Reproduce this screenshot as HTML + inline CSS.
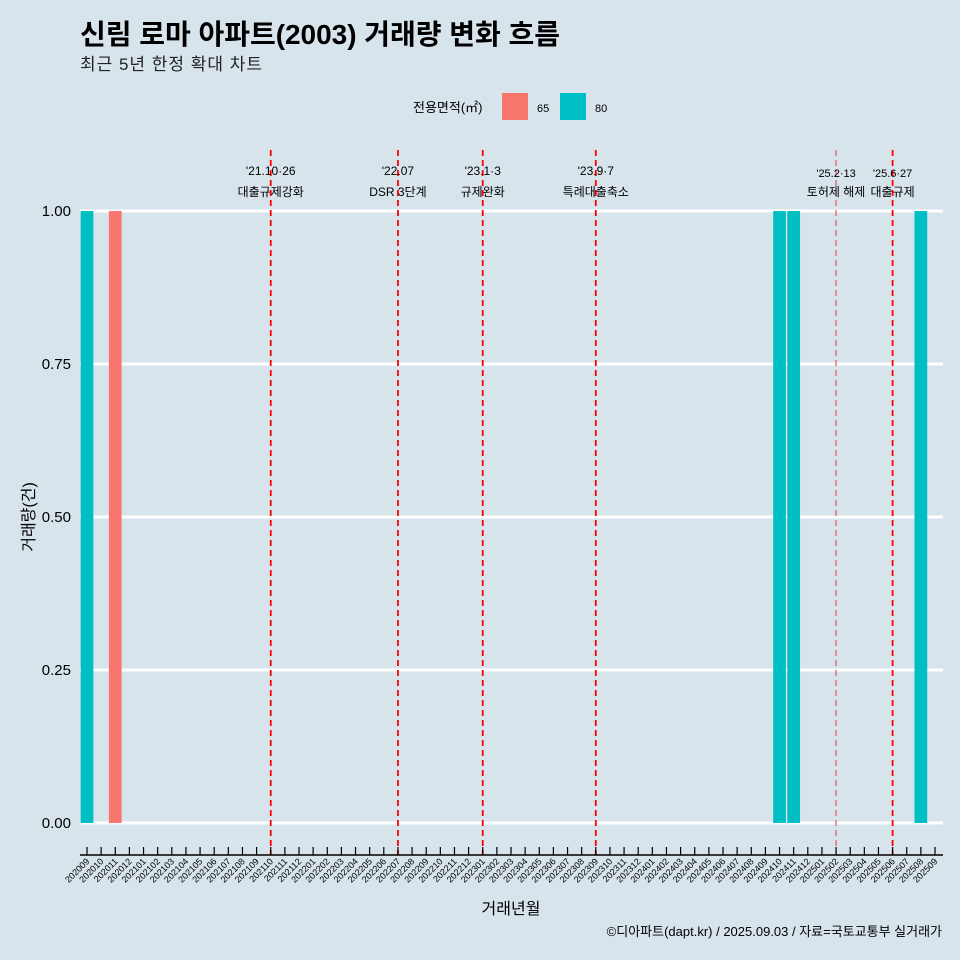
<!DOCTYPE html>
<html><head><meta charset="utf-8"><style>
body{margin:0;background:#d7e4eb;}
svg{display:block;font-family:"Liberation Sans","Noto Sans CJK KR",sans-serif;}
</style></head><body>
<svg id="c" width="960" height="960">
<rect width="960" height="960" fill="#d7e4eb"/>
<text x="80" y="44" font-size="28" font-weight="bold" fill="#000" textLength="480">신림 로마 아파트(2003) 거래량 변화 흐름</text>
<text x="80" y="70" font-size="17" fill="#222" textLength="182">최근 5년 한정 확대 차트</text>
<g>
<text x="413" y="112" font-size="13">전용면적(㎡)</text>
<rect x="502" y="93" width="26" height="27" fill="#f8766d"/>
<text x="537" y="112" font-size="11">65</text>
<rect x="560" y="93" width="26" height="27" fill="#00bfc4"/>
<text x="595" y="112" font-size="11">80</text>
</g>
<g id="grid"></g><g id="bars"></g><g id="events"></g><g id="axes"></g>
<text transform="translate(34,517) rotate(-90)" text-anchor="middle" font-size="16">거래량(건)</text>
<text x="511" y="914" text-anchor="middle" font-size="16">거래년월</text>
<text x="942" y="936" text-anchor="end" font-size="13">©디아파트(dapt.kr) / 2025.09.03 / 자료=국토교통부 실거래가</text>
</svg>
<script>
const months=[];for(let y=2020,m=9;!(y===2025&&m===10);){months.push(y+String(m).padStart(2,'0'));m++;if(m>12){m=1;y++;}}
const barMonths=["202009","202011","202410","202411","202508"];
const barSizes=["80","65","80","80","80"];
const barValues=[1,1,1,1,1];
const yTicks=[0,0.25,0.5,0.75,1];
const yTickLabels=["0.00","0.25","0.50","0.75","1.00"];
const eventMonths=["202110","202207","202301","202309","202502","202506"];
const eventLine1=["'21.10·26","'22.07","'23.1·3","'23.9·7","'25.2·13","'25.6·27"];
const eventLine2=["대출규제강화","DSR 3단계","규제완화","특례대출축소","토허제 해제","대출규제"];
const NS="http://www.w3.org/2000/svg";
const x0=87,step=(935-87)/60;
const xs=m=>x0+months.indexOf(m)*step;
const ys=v=>823-v*612;
function mk(t,a,p){const e=document.createElementNS(NS,t);for(const k in a)e.setAttribute(k,a[k]);p.appendChild(e);return e;}
const grid=document.getElementById('grid'),bars=document.getElementById('bars'),ev=document.getElementById('events'),ax=document.getElementById('axes');
yTicks.forEach((v,i)=>{
 const l=mk('line',{x1:80,x2:943,y1:ys(v),y2:ys(v),stroke:'#fff','stroke-width':3},grid);
 
 
 const t=mk('text',{x:71,y:ys(v)+5,'text-anchor':'end','font-size':15},ax);t.textContent=yTickLabels[i];
 
 
});
const bw=step*0.9;
barMonths.forEach((m,i)=>{
 const r=mk('rect',{x:xs(m)-bw/2,y:ys(barValues[i]),width:bw,height:ys(0)-ys(barValues[i]),fill:barSizes[i]==="65"?'#f8766d':'#00bfc4'},bars);
 
 
});
eventMonths.forEach((m,i)=>{
 const x=xs(m);const light=m==="202502";
 const l=mk('line',{x1:x,x2:x,y1:150,y2:855,stroke:light?'#e05a5a':'#f00','stroke-width':light?1.2:1.8,'stroke-dasharray':'6,4'},ev);
 
 
 const small=i>=4;
 const t1=mk('text',{x:x,y:small?177:175,'text-anchor':'middle','font-size':small?11:12},ev);t1.textContent=eventLine1[i];
 
 
 const t2=mk('text',{x:x,y:196,'text-anchor':'middle','font-size':12},ev);t2.textContent=eventLine2[i];
 
 
});
const al=mk('line',{x1:80,x2:943,y1:855,y2:855,stroke:'#000','stroke-width':1.5},ax);


months.forEach(m=>{
 const x=xs(m);
 const tk=mk('line',{x1:x,x2:x,y1:847,y2:855,stroke:'#000','stroke-width':1.2},ax);
 
 
 const t=mk('text',{transform:`translate(${x+3},862) rotate(-45)`,'text-anchor':'end','font-size':9},ax);t.textContent=m;
 
 
});
</script>
</body></html>
